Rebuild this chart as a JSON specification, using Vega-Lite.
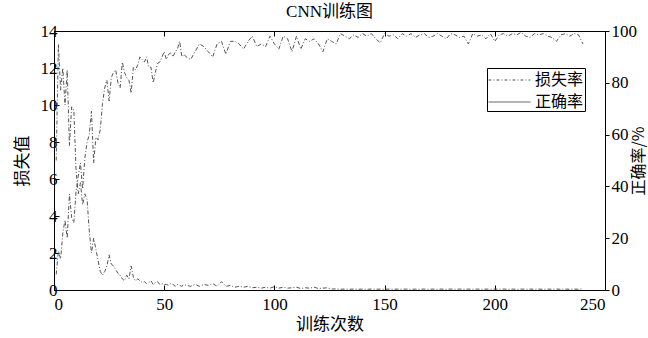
{
  "$schema": "https://vega.github.io/schema/vega-lite/v6.json",
  "width": 551,
  "height": 259,
  "autosize": "none",
  "padding": {"left": 54, "top": 31, "right": 43, "bottom": 48},
  "background": "white",
  "title": {"text": "CNN训练图", "font": "Liberation Serif, Noto Sans CJK SC", "fontSize": 17, "fontWeight": "normal", "color": "black", "offset": 1},
  "config": {
    "view": {"stroke": "black", "strokeWidth": 1},
    "axis": {"grid": false, "domainColor": "black", "tickColor": "black", "labelColor": "black", "titleColor": "black", "labelFont": "Liberation Serif", "labelFontSize": 17, "titleFont": "Noto Sans CJK SC", "titleFontSize": 17, "titleFontWeight": "normal"},
    "legend": {"strokeColor": "black", "fillColor": "white", "padding": 1, "symbolType": "M-1,0H3", "symbolSize": 441, "symbolStrokeWidth": 1, "symbolFillColor": "transparent", "labelFont": "Noto Sans CJK SC", "labelFontSize": 16, "labelColor": "black", "rowPadding": 3, "labelOffset": 25}
  },
  "data": {"values": [
    {"step": 1, "loss": 7.0, "acc": 6},
    {"step": 2, "loss": 13.3, "acc": 15},
    {"step": 3, "loss": 10.8, "acc": 12},
    {"step": 4, "loss": 12.0, "acc": 22},
    {"step": 5, "loss": 10.0, "acc": 27},
    {"step": 6, "loss": 11.9, "acc": 20},
    {"step": 7, "loss": 7.8, "acc": 37},
    {"step": 8, "loss": 9.9, "acc": 28},
    {"step": 9, "loss": 9.7, "acc": 26},
    {"step": 10, "loss": 6.5, "acc": 38},
    {"step": 11, "loss": 5.2, "acc": 44},
    {"step": 12, "loss": 5.8, "acc": 49},
    {"step": 13, "loss": 4.6, "acc": 39},
    {"step": 14, "loss": 5.2, "acc": 51},
    {"step": 15, "loss": 4.9, "acc": 57},
    {"step": 16, "loss": 3.2, "acc": 60},
    {"step": 17, "loss": 2.0, "acc": 69},
    {"step": 18, "loss": 2.8, "acc": 49},
    {"step": 19, "loss": 2.2, "acc": 59},
    {"step": 20, "loss": 1.6, "acc": 58},
    {"step": 21, "loss": 1.0, "acc": 62},
    {"step": 22, "loss": 0.8, "acc": 72},
    {"step": 23, "loss": 1.0, "acc": 78},
    {"step": 24, "loss": 1.3, "acc": 81},
    {"step": 25, "loss": 1.9, "acc": 73},
    {"step": 26, "loss": 1.4, "acc": 82},
    {"step": 27, "loss": 1.3, "acc": 84},
    {"step": 28, "loss": 1.1, "acc": 85},
    {"step": 29, "loss": 0.9, "acc": 80},
    {"step": 30, "loss": 0.8, "acc": 78},
    {"step": 31, "loss": 0.6, "acc": 88},
    {"step": 32, "loss": 0.5, "acc": 84},
    {"step": 33, "loss": 0.8, "acc": 82},
    {"step": 34, "loss": 0.6, "acc": 81},
    {"step": 35, "loss": 1.3, "acc": 76},
    {"step": 36, "loss": 0.7, "acc": 86},
    {"step": 37, "loss": 0.5, "acc": 85},
    {"step": 38, "loss": 0.6, "acc": 87},
    {"step": 39, "loss": 0.5, "acc": 90},
    {"step": 40, "loss": 0.4, "acc": 89},
    {"step": 41, "loss": 0.45, "acc": 88},
    {"step": 42, "loss": 0.35, "acc": 90},
    {"step": 43, "loss": 0.4, "acc": 86},
    {"step": 44, "loss": 0.5, "acc": 86},
    {"step": 45, "loss": 0.3, "acc": 80},
    {"step": 46, "loss": 0.4, "acc": 84},
    {"step": 47, "loss": 0.45, "acc": 87.5},
    {"step": 48, "loss": 0.3, "acc": 88},
    {"step": 49, "loss": 0.35, "acc": 90},
    {"step": 50, "loss": 0.3, "acc": 92},
    {"step": 51, "loss": 0.3, "acc": 89},
    {"step": 52, "loss": 0.25, "acc": 91},
    {"step": 53, "loss": 0.35, "acc": 91.5},
    {"step": 54, "loss": 0.3, "acc": 90},
    {"step": 55, "loss": 0.2, "acc": 92},
    {"step": 56, "loss": 0.3, "acc": 93},
    {"step": 57, "loss": 0.25, "acc": 96},
    {"step": 58, "loss": 0.2, "acc": 90},
    {"step": 59, "loss": 0.3, "acc": 91},
    {"step": 60, "loss": 0.25, "acc": 90},
    {"step": 62, "loss": 0.2, "acc": 89},
    {"step": 64, "loss": 0.3, "acc": 92},
    {"step": 66, "loss": 0.2, "acc": 95},
    {"step": 68, "loss": 0.3, "acc": 94},
    {"step": 70, "loss": 0.25, "acc": 92},
    {"step": 72, "loss": 0.35, "acc": 90},
    {"step": 74, "loss": 0.2, "acc": 95},
    {"step": 76, "loss": 0.45, "acc": 96},
    {"step": 78, "loss": 0.2, "acc": 91},
    {"step": 80, "loss": 0.25, "acc": 96},
    {"step": 82, "loss": 0.15, "acc": 96},
    {"step": 84, "loss": 0.2, "acc": 95},
    {"step": 86, "loss": 0.15, "acc": 93},
    {"step": 88, "loss": 0.2, "acc": 96},
    {"step": 90, "loss": 0.12, "acc": 98},
    {"step": 92, "loss": 0.15, "acc": 94},
    {"step": 94, "loss": 0.1, "acc": 95},
    {"step": 96, "loss": 0.15, "acc": 94},
    {"step": 98, "loss": 0.1, "acc": 98},
    {"step": 100, "loss": 0.18, "acc": 95},
    {"step": 102, "loss": 0.1, "acc": 93},
    {"step": 104, "loss": 0.15, "acc": 98},
    {"step": 106, "loss": 0.1, "acc": 97},
    {"step": 108, "loss": 0.12, "acc": 92},
    {"step": 110, "loss": 0.15, "acc": 98},
    {"step": 112, "loss": 0.08, "acc": 93},
    {"step": 114, "loss": 0.12, "acc": 97},
    {"step": 116, "loss": 0.1, "acc": 96},
    {"step": 118, "loss": 0.15, "acc": 97},
    {"step": 120, "loss": 0.08, "acc": 95},
    {"step": 122, "loss": 0.1, "acc": 92},
    {"step": 124, "loss": 0.12, "acc": 97},
    {"step": 126, "loss": 0.05, "acc": 96},
    {"step": 128, "loss": 0.06, "acc": 95},
    {"step": 130, "loss": 0.04, "acc": 99},
    {"step": 132, "loss": 0.05, "acc": 98},
    {"step": 134, "loss": 0.04, "acc": 97},
    {"step": 136, "loss": 0.05, "acc": 98.5},
    {"step": 138, "loss": 0.04, "acc": 97.5},
    {"step": 140, "loss": 0.05, "acc": 99},
    {"step": 142, "loss": 0.04, "acc": 98},
    {"step": 144, "loss": 0.05, "acc": 99},
    {"step": 146, "loss": 0.04, "acc": 97},
    {"step": 148, "loss": 0.05, "acc": 95.5},
    {"step": 150, "loss": 0.04, "acc": 99},
    {"step": 152, "loss": 0.05, "acc": 98},
    {"step": 154, "loss": 0.04, "acc": 98.5},
    {"step": 156, "loss": 0.05, "acc": 97},
    {"step": 158, "loss": 0.04, "acc": 99},
    {"step": 160, "loss": 0.05, "acc": 98},
    {"step": 162, "loss": 0.04, "acc": 99},
    {"step": 164, "loss": 0.05, "acc": 97.5},
    {"step": 166, "loss": 0.04, "acc": 98.5},
    {"step": 168, "loss": 0.05, "acc": 99},
    {"step": 170, "loss": 0.04, "acc": 97.5},
    {"step": 172, "loss": 0.05, "acc": 98},
    {"step": 174, "loss": 0.04, "acc": 99},
    {"step": 176, "loss": 0.05, "acc": 98},
    {"step": 178, "loss": 0.04, "acc": 97},
    {"step": 180, "loss": 0.05, "acc": 99},
    {"step": 182, "loss": 0.04, "acc": 98.5},
    {"step": 184, "loss": 0.05, "acc": 97.5},
    {"step": 186, "loss": 0.04, "acc": 98},
    {"step": 188, "loss": 0.05, "acc": 95},
    {"step": 190, "loss": 0.04, "acc": 99},
    {"step": 192, "loss": 0.05, "acc": 98},
    {"step": 194, "loss": 0.04, "acc": 98.5},
    {"step": 196, "loss": 0.05, "acc": 97},
    {"step": 198, "loss": 0.04, "acc": 99},
    {"step": 200, "loss": 0.05, "acc": 96},
    {"step": 202, "loss": 0.04, "acc": 98.5},
    {"step": 204, "loss": 0.05, "acc": 99},
    {"step": 206, "loss": 0.04, "acc": 98},
    {"step": 208, "loss": 0.05, "acc": 99},
    {"step": 210, "loss": 0.04, "acc": 98.5},
    {"step": 212, "loss": 0.05, "acc": 99.5},
    {"step": 214, "loss": 0.04, "acc": 98},
    {"step": 216, "loss": 0.05, "acc": 97.5},
    {"step": 218, "loss": 0.04, "acc": 99},
    {"step": 220, "loss": 0.05, "acc": 98.5},
    {"step": 222, "loss": 0.04, "acc": 99},
    {"step": 224, "loss": 0.05, "acc": 98},
    {"step": 226, "loss": 0.04, "acc": 97.5},
    {"step": 228, "loss": 0.05, "acc": 96},
    {"step": 230, "loss": 0.04, "acc": 98.5},
    {"step": 232, "loss": 0.05, "acc": 99},
    {"step": 234, "loss": 0.04, "acc": 98},
    {"step": 236, "loss": 0.05, "acc": 99},
    {"step": 238, "loss": 0.04, "acc": 98.5},
    {"step": 240, "loss": 0.06, "acc": 95}
  ]},
  "layer": [
    {
      "mark": {"type": "line", "strokeWidth": 1, "strokeDash": [4, 2, 1, 2]},
      "encoding": {
        "x": {"field": "step", "type": "quantitative", "scale": {"domain": [0, 250], "nice": false}, "axis": {"title": "训练次数", "values": [0, 50, 100, 150, 200, 250], "tickSize": -5, "labelPadding": 11, "titlePadding": 4, "domain": false}},
        "y": {"field": "loss", "type": "quantitative", "scale": {"domain": [0, 14], "nice": false}, "axis": {"title": "损失值", "values": [0, 2, 4, 6, 8, 10, 12, 14], "tickSize": -5, "labelPadding": 2, "titlePadding": 9, "domain": false}},
        "color": {"datum": "损失率", "scale": {"domain": ["损失率", "正确率"], "range": ["#555555", "#555555"]}, "legend": {"title": null, "orient": "none", "legendX": 433, "legendY": 37, "encode": {"symbols": {"update": {"strokeDash": {"signal": "datum.value === '损失率' ? [3, 2, 1, 2] : [1, 0]"}, "stroke": {"value": "#333333"}, "fill": {"value": "transparent"}}}}}}
      }
    },
    {
      "mark": {"type": "line", "strokeWidth": 1, "strokeDash": [4, 2, 1, 2]},
      "encoding": {
        "x": {"field": "step", "type": "quantitative", "scale": {"domain": [0, 250], "nice": false}, "axis": {"orient": "top", "title": null, "labels": false, "values": [0, 50, 100, 150, 200, 250], "tickSize": -5, "domain": false}},
        "y": {"field": "acc", "type": "quantitative", "scale": {"domain": [0, 100], "nice": false}, "axis": {"orient": "right", "title": "正确率/%", "titleAngle": 270, "titleFontSize": 16, "values": [0, 20, 40, 60, 80, 100], "tickSize": 4, "labelPadding": 2, "titlePadding": 10, "domain": false}},
        "color": {"datum": "正确率"}
      }
    }
  ],
  "resolve": {"scale": {"y": "independent"}, "axis": {"x": "independent"}}
}
